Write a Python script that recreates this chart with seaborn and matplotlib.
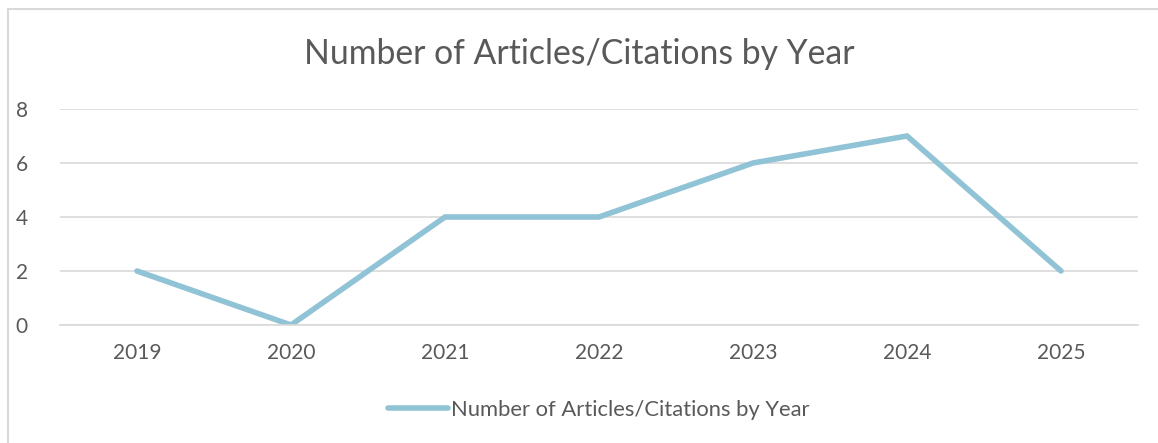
import matplotlib
matplotlib.use("Agg")
import matplotlib.pyplot as plt
import seaborn as sns
import pandas as pd
from matplotlib.patches import Rectangle

years = ["2019", "2020", "2021", "2022", "2023", "2024", "2025"]
counts = [2, 0, 4, 4, 6, 7, 2]
series_name = "Number of Articles/Citations by Year"

sns.set_theme(style="white")
plt.rcParams['font.family'] = ['Lato', 'DejaVu Sans']

df = pd.DataFrame({"Year": years, "Count": counts})

W, H = 1158, 443
fig = plt.figure(figsize=(W / 100, H / 100), dpi=100)
ax = fig.add_axes([60 / W, 1 - 325 / H, (1138 - 60) / W, (325 - 109) / H])

sns.lineplot(data=df, x="Year", y="Count", ax=ax, color="#8FC3D5",
             linewidth=4.0, sort=False, label=series_name,
             solid_capstyle="round", solid_joinstyle="miter")

ax.set_xlim(-0.5, len(years) - 0.5)
ax.set_ylim(0, 8)
ax.set_yticks([0, 2, 4, 6, 8])
ax.yaxis.grid(True, color="#D9D9D9", linewidth=1.2)
ax.set_axisbelow(True)
for s in ["top", "right", "left"]:
    ax.spines[s].set_visible(False)
ax.spines["bottom"].set_color("#D9D9D9")
ax.spines["bottom"].set_linewidth(1.2)
ax.tick_params(axis="both", length=0, labelsize=15, colors="#595959")
ax.tick_params(axis="x", pad=13)
ax.tick_params(axis="y", pad=32)
for lbl in ax.get_yticklabels():
    lbl.set_horizontalalignment("left")
ax.set_xlabel("")
ax.set_ylabel("")

fig.text(0.5, 1 - 54 / H, series_name, ha="center", va="center",
         fontsize=24.3, color="#595959")

leg = ax.legend(loc="center", bbox_to_anchor=(0.5, (325 - 410) / (325 - 109)),
                frameon=False, fontsize=15.8, handlelength=2.7, handletextpad=0.15)
for t in leg.get_texts():
    t.set_color("#595959")

fig.patches.append(Rectangle((8 / W, -0.05), 1.2, 1 - 9 / H + 0.05,
                             transform=fig.transFigure, fill=False,
                             edgecolor="#D9D9D9", linewidth=1.5))

fig.savefig("out.png", dpi=100, facecolor="white")
